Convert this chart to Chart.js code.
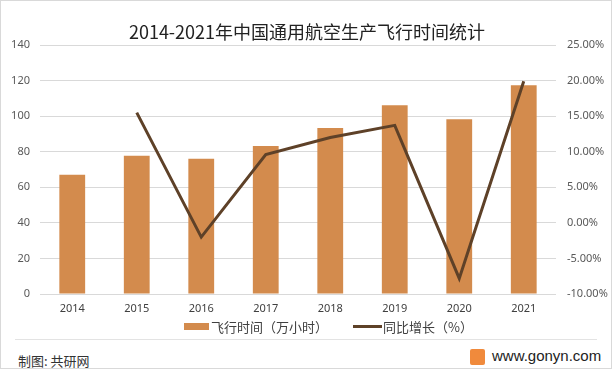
<!DOCTYPE html>
<html>
<head>
<meta charset="utf-8">
<script src="https://cdn.jsdelivr.net/npm/chart.js@4"></script>
<style>
  body { margin: 0; background: #fff; font-family: "Noto Sans CJK SC", "Noto Sans", sans-serif; }
  #wrap { position: relative; width: 610px; height: 367px; border: 1px solid #d9d9d9; overflow: hidden; }
  #box { position: absolute; left: -1px; top: -1px; width: 612px; height: 340px; }
  .t { position: absolute; white-space: nowrap; color: #404040; }
</style>
</head>
<body>
<div id="wrap">
  <div id="box"><canvas id="myChart"></canvas></div>
  <div class="t" style="left:0;width:612px;text-align:center;top:17px;font-size:18px;color:#222;">2014-2021年中国通用航空生产飞行时间统计</div>
  <div style="position:absolute;left:183px;top:322px;width:25px;height:7px;background:#d38b4d;"></div>
  <div class="t" style="left:210px;top:316px;font-size:13px;">飞行时间（万小时）</div>
  <div style="position:absolute;left:352px;top:324px;width:29px;height:3px;background:#5e4128;"></div>
  <div class="t" style="left:382px;top:316px;font-size:13px;">同比增长（%）</div>
  <div style="position:absolute;left:14px;right:14px;top:338px;height:1px;background:#e3e3e3;"></div>
  <div class="t" style="left:17px;top:350px;font-size:13px;color:#333;">制图: 共研网</div>
  <div style="position:absolute;left:469px;top:348px;width:15px;height:16px;background:#f08a3c;border-radius:2px;"></div>
  <div class="t" style="left:491px;top:346px;font-size:15px;font-family:'Liberation Sans',Arial,sans-serif;color:#222;">www.gonyn.com</div>
</div>
<script>
const years = ["2014", "2015", "2016", "2017", "2018", "2019", "2020", "2021"];
const flightHours = [67.0, 77.7, 76.0, 83.2, 93.3, 106.1, 98.3, 117.3];
const growth = [null, 0.155, -0.020, 0.096, 0.120, 0.137, -0.078, 0.199];

const tickFont = { size: 11, family: "'Noto Sans', sans-serif" };

new Chart(document.getElementById('myChart'), {
    data: {
        labels: years,
        datasets: [{
            type: 'line',
            label: '同比增长（%）',
            data: growth,
            yAxisID: 'y1',
            borderColor: '#5e4128',
            borderWidth: 3,
            pointRadius: 0,
            tension: 0,
            order: 0
        }, {
            type: 'bar',
            label: '飞行时间（万小时）',
            data: flightHours,
            yAxisID: 'y',
            backgroundColor: '#d38b4d',
            barPercentage: 0.4,
            categoryPercentage: 1,
            order: 1
        }]
    },
    options: {
        responsive: true,
        maintainAspectRatio: false,
        animation: false,
        layout: { padding: { top: 45, bottom: 16, left: 0, right: 0 } },
        scales: {
            x: {
                grid: { display: false, drawTicks: false },
                border: { display: false },
                ticks: { color: '#404040', font: tickFont, padding: 8 },
                afterFit: (axis) => { axis.height = 30; }
            },
            y: {
                position: 'left',
                min: 0,
                max: 140,
                ticks: { stepSize: 20, color: '#595959', font: tickFont, padding: 10 },
                grid: { color: '#d9d9d9', drawTicks: false },
                border: { display: false },
                afterFit: (axis) => { axis.width = 40; }
            },
            y1: {
                position: 'right',
                min: -0.10,
                max: 0.25,
                ticks: {
                    stepSize: 0.05,
                    color: '#595959',
                    font: tickFont,
                    padding: 11,
                    callback: (v) => {
                        const p = Math.round(v * 10000) / 100;
                        return (p === 0 ? 0 : p).toFixed(2) + '%';
                    }
                },
                grid: { display: false, drawTicks: false },
                border: { display: false },
                afterFit: (axis) => { axis.width = 56; }
            }
        },
        plugins: {
            legend: { display: false },
            tooltip: { enabled: false }
        }
    }
});
</script>
</body>
</html>
